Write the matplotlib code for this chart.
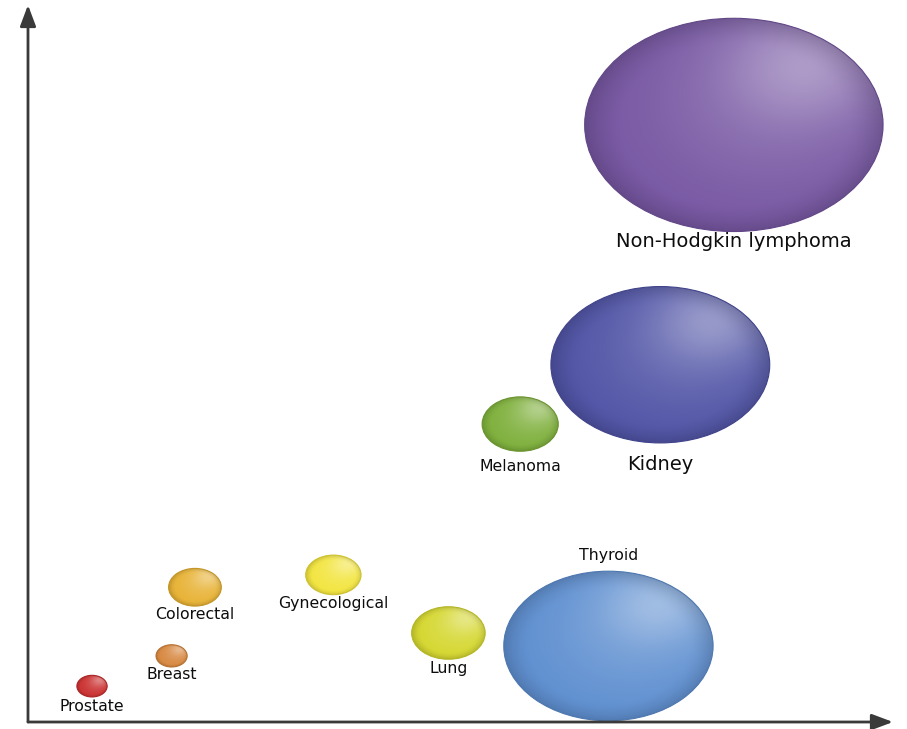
import numpy as np
import matplotlib
matplotlib.use("Agg")
import matplotlib.pyplot as plt
from matplotlib.patches import Ellipse
from matplotlib.colors import to_rgb

# Cancer types with position and bubble diameter (data units)
cancers = ["Prostate", "Breast", "Colorectal", "Gynecological", "Lung",
           "Thyroid", "Melanoma", "Kidney", "Non-Hodgkin lymphoma"]
x_vals = [7.4, 16.6, 19.3, 35.3, 48.6, 67.1, 56.9, 73.1, 81.6]
y_vals = [5.8, 10.7, 21.8, 23.8, 14.4, 12.3, 48.2, 57.8, 96.6]
sizes = [3.5, 3.6, 6.1, 6.4, 8.5, 24.2, 8.8, 25.3, 34.5]

# Styling
colors = ["#c92a2a", "#d6843a", "#e7b02f", "#f2e43a", "#d4d62a",
          "#5a8ccf", "#7aad35", "#4b4fa3", "#7352a0"]
label_offset = [-10, -8, -8, -9, -9, 16, -15, -22, -10]   # pixels, below (-) / above (+)
label_size = [11.3, 11.3, 11.3, 11.3, 11.3, 11.3, 11.3, 14, 14]

fig = plt.figure(figsize=(9.07, 7.29), dpi=100)
W, H = 907, 729
ax = fig.add_axes([28 / W, (H - 722) / H, (893 - 28) / W, (722 - 5) / H])
ax.set_xlim(0, 100)
ax.set_ylim(0, 116)
ax.axis("off")


def shaded(base, n=240):
    base = np.array(to_rgb(base))
    u = np.linspace(-1, 1, n)
    U, V = np.meshgrid(u, u)
    r = np.sqrt(U ** 2 + V ** 2)
    hl = np.exp(-((U - 0.5) ** 2 + (V - 0.6) ** 2) / 0.3)
    soft = np.exp(-((U - 0.2) ** 2 + (V - 0.15) ** 2) / 0.9)
    lift = 0.3 * hl + 0.16 * soft
    rgb = base + (1 - base) * lift[..., None]
    edge = np.clip((r - 0.75) / 0.25, 0, 1) ** 1.6
    rgb = rgb * (1 - 0.15 * edge[..., None])
    return np.clip(rgb, 0, 1)


for name, xv, yv, d, c, off, fs in zip(cancers, x_vals, y_vals, sizes,
                                       colors, label_offset, label_size):
    ell = Ellipse((xv, yv), d, d, facecolor="none",
                  edgecolor=np.array(to_rgb(c)) * 0.85, lw=0.8, zorder=3)
    ax.add_patch(ell)
    im = ax.imshow(shaded(c), extent=(xv - d / 2, xv + d / 2, yv - d / 2, yv + d / 2),
                   origin="lower", interpolation="bilinear", zorder=2, aspect="auto")
    im.set_clip_path(ell)
    anchor_y = yv - d / 2 if off < 0 else yv + d / 2
    ax.annotate(name, (xv, anchor_y), xytext=(0, off), textcoords="offset pixels",
                ha="center", va="center", fontsize=fs, color="#0d0d0d",
                family="DejaVu Sans", zorder=4)

ax.set_xlim(0, 100)
ax.set_ylim(0, 116)

# Axes with arrowheads
arrow = dict(arrowstyle="-|>,head_length=0.8,head_width=0.3", color="#3a3a3a",
             lw=2, shrinkA=0, shrinkB=0, mutation_scale=16)
ax.annotate("", xy=(1, 0), xytext=(0, 0), xycoords="axes fraction",
            arrowprops=arrow, annotation_clip=False)
ax.annotate("", xy=(0, 1), xytext=(0, 0), xycoords="axes fraction",
            arrowprops=arrow, annotation_clip=False)

fig.savefig("out.png", dpi=100, facecolor="white")
